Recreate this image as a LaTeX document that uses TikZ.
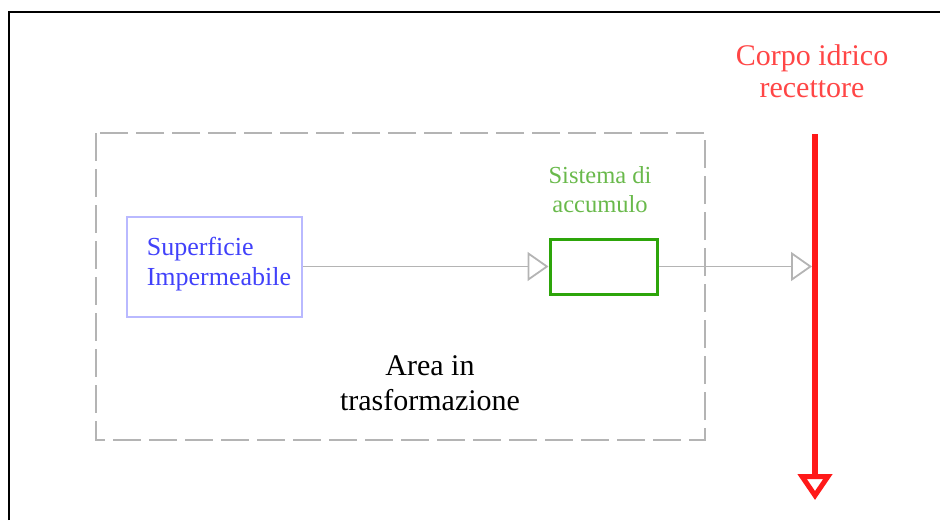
\documentclass[tikz,border=0pt]{standalone}
\usepackage{fontspec}
\setmainfont{Liberation Serif}
\usetikzlibrary{arrows.meta}
\definecolor{boxblue}{RGB}{185,185,255}
\definecolor{txtblue}{RGB}{65,65,250}
\definecolor{boxgreen}{RGB}{45,165,10}
\definecolor{txtgreen}{RGB}{105,185,75}
\definecolor{linegray}{RGB}{180,180,180}
\definecolor{riverred}{RGB}{255,25,25}
\definecolor{txtred}{RGB}{255,70,70}
\tikzset{
  flow/.style={draw=linegray, line width=1.8pt,
    -{Triangle[open, length=21pt, width=29pt]}},
  label/.style={align=center, inner sep=0pt},
}
\begin{document}
\begin{tikzpicture}[x=1pt, y=-1pt]
\useasboundingbox (0,0) rectangle (940,520);
% page frame
\draw[line width=2pt] (9,520) -- (9,12) -- (940,12);
% area under transformation
\draw[linegray, line width=2pt, dash pattern=on 28pt off 8pt] (96,133) rectangle (705,440);
\node[label, font=\fontsize{30}{35}\selectfont] (area) at (430,383) {Area in\\trasformazione};
% impervious surface
\node[draw=boxblue, line width=2pt, minimum width=175pt, minimum height=100pt,
      inner sep=0pt] (sup) at (214.5,266.5) {};
\node[label, align=left, text=txtblue, font=\fontsize{26}{30}\selectfont]
      (suplabel) at (219,264) {Superficie\\Impermeabile};
% storage system
\node[draw=boxgreen, line width=3pt, minimum width=107pt, minimum height=55pt,
      inner sep=0pt] (acc) at (603.5,266.5) {};
\node[label, text=txtgreen, font=\fontsize{24.5}{29}\selectfont] (acclabel) at (600,190) {Sistema di\\accumulo};
% receiving water body
\coordinate (rtop) at (815,134);
\coordinate (rbot) at (815,500);
\coordinate (rin) at (812,266.5);
\draw[riverred, line width=6pt, -{Triangle[open, length=26pt, width=34pt, line width=5pt]}] (rtop) -- (rbot);
\node[label, text=txtred, font=\fontsize{30}{32}\selectfont] (corpo) at (812,71) {Corpo idrico\\recettore};
% flows
\draw[flow] (sup.east) -- (acc.west);
\draw[flow] (acc.east) -- (rin);
\end{tikzpicture}
\end{document}
